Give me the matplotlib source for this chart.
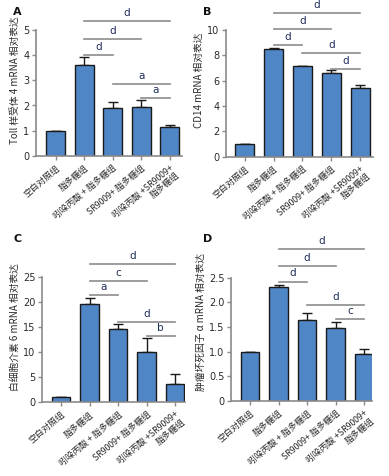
import matplotlib
matplotlib.use("Agg")
import matplotlib.pyplot as plt
import numpy as np

plt.rcParams['font.family'] = ['Noto Sans CJK SC', 'DejaVu Sans']

categories = ["空白对照组", "脂多糖组", "吲哚丙酸 + 脂多糖组", "SR9009+ 脂多糖组",
              "吲哚丙酸 +SR9009+\n脂多糖组"]

a_vals = [1.0, 3.60, 1.92, 1.94, 1.16]
a_err = [0.0, 0.32, 0.22, 0.29, 0.06]
b_vals = [1.0, 8.53, 7.12, 6.58, 5.40]
b_err = [0.0, 0.08, 0.05, 0.24, 0.25]
c_vals = [1.0, 19.6, 14.6, 10.0, 3.66]
c_err = [0.0, 1.3, 1.0, 2.9, 1.95]
d_vals = [1.0, 2.30, 1.64, 1.47, 0.95]
d_err = [0.0, 0.06, 0.14, 0.13, 0.10]

a_sig = [(1, 2, 4.01, 'd'), (1, 3, 4.64, 'd'), (1, 4, 5.38, 'd'), (2, 4, 2.87, 'a'), (3, 4, 2.28, 'a')]
b_sig = [(1, 2, 8.82, 'd'), (1, 3, 10.06, 'd'), (1, 4, 11.37, 'd'), (2, 4, 8.21, 'd'), (3, 4, 6.92, 'd')]
c_sig = [(1, 2, 21.4, 'a'), (1, 3, 24.3, 'c'), (1, 4, 27.6, 'd'), (2, 4, 16.1, 'd'), (3, 4, 13.3, 'b')]
d_sig = [(1, 2, 2.42, 'd'), (1, 3, 2.74, 'd'), (1, 4, 3.07, 'd'), (2, 4, 1.95, 'd'), (3, 4, 1.66, 'c')]

a_ticks = [0, 1, 2, 3, 4, 5]
b_ticks = [0, 2, 4, 6, 8, 10]
c_ticks = [0, 5, 10, 15, 20, 25]
d_ticks = [0, 0.5, 1.0, 1.5, 2.0, 2.5]
d_ticklabels = ["0", "0.5", "1.0", "1.5", "2.0", "2.5"]

ylabels = ["Toll 样受体 4 mRNA 相对表达", "CD14 mRNA 相对表达",
           "白细胞介素 6 mRNA 相对表达", "肿瘤坏死因子 α mRNA 相对表达"]

W, H = 389, 476
fig = plt.figure(figsize=(W / 100, H / 100), dpi=100)

def px_rect(left, right, y0, ytop_px):
    return [left / W, 1 - y0 / H, (right - left) / W, (y0 - ytop_px) / H]

panels = [
    dict(letter='A', rect=px_rect(35.7, 181.7, 155.7, 155.7 - 6.0 * 25.1), ylim=6.0,
         xlim=(-0.70, 4.42), vals=a_vals, err=a_err, sig=a_sig, ticks=a_ticks,
         tl=[str(t) for t in a_ticks], ylabel=ylabels[0], lpos=(13, 12), ytxt=0.12),
    dict(letter='B', rect=px_rect(225.7, 373.0, 156.7, 156.7 - 12.0 * 12.67), ylim=12.0,
         xlim=(-0.66, 4.45), vals=b_vals, err=b_err, sig=b_sig, ticks=b_ticks,
         tl=[str(t) for t in b_ticks], ylabel=ylabels[1], lpos=(203, 12), ytxt=0.24),
    dict(letter='C', rect=px_rect(41.7, 185.0, 402.3, 402.3 - 30.0 * 5.0), ylim=30.0,
         xlim=(-0.68, 4.35), vals=c_vals, err=c_err, sig=c_sig, ticks=c_ticks,
         tl=[str(t) for t in c_ticks], ylabel=ylabels[2], lpos=(14, 239), ytxt=0.6),
    dict(letter='D', rect=px_rect(230.7, 371.7, 401.1, 401.1 - 3.2 * 49.4), ylim=3.2,
         xlim=(-0.68, 4.27), vals=d_vals, err=d_err, sig=d_sig, ticks=d_ticks,
         tl=d_ticklabels, ylabel=ylabels[3], lpos=(203, 239), ytxt=0.065),
]

bar_color = '#4f86c6'
spine_color = '#8a8a8a'
text_color = '#2b2b2b'
sig_color = '#1f2d5c'
line_color = '#8c8c8c'

for p in panels:
    ax = fig.add_axes(p['rect'])
    x = np.arange(len(categories))
    ax.bar(x, p['vals'], width=0.66, color=bar_color, edgecolor='#1a1a1a', linewidth=1.0, zorder=2)
    ax.errorbar(x, p['vals'], yerr=[np.zeros(len(x)), p['err']], fmt='none',
                ecolor='#1a1a1a', elinewidth=1.0, capsize=3.5, capthick=1.0, zorder=1)
    ax.set_xlim(*p['xlim'])
    ax.set_ylim(0, p['ylim'])
    ax.set_yticks(p['ticks'])
    ax.set_yticklabels(p['tl'], fontsize=7, color=text_color, family='DejaVu Sans')
    ax.set_xticks(x)
    ax.set_xticklabels(categories, rotation=40, ha='right', rotation_mode='anchor',
                       fontsize=6.3, color=text_color, multialignment='right',
                       linespacing=1.05)
    for s in ['top', 'right']:
        ax.spines[s].set_visible(False)
    ax.spines['left'].set_bounds(0, p['ticks'][-1])
    for s in ['left', 'bottom']:
        ax.spines[s].set_color(spine_color)
        ax.spines[s].set_linewidth(1.2)
    ax.tick_params(axis='both', colors=spine_color, length=3, width=1.0, pad=1.5)
    ax.tick_params(axis='x', pad=2.5)
    ax.tick_params(axis='both', labelcolor=text_color)
    ax.set_ylabel(p['ylabel'], fontsize=7, color=text_color, labelpad=2)
    for (i, j, yv, lab) in p['sig']:
        ax.plot([i, j], [yv, yv], color=line_color, lw=1.2, clip_on=False, zorder=3)
        ax.text((i + j) / 2, yv + p['ytxt'], lab, ha='center', va='bottom',
                fontsize=7.5, color=sig_color, family='DejaVu Sans', clip_on=False)
    fig.text(p['lpos'][0] / W, 1 - p['lpos'][1] / H, p['letter'], fontsize=8,
             fontweight='bold', family='DejaVu Sans', ha='left', va='center', color='#111111')

fig.savefig('out.png', dpi=100)
